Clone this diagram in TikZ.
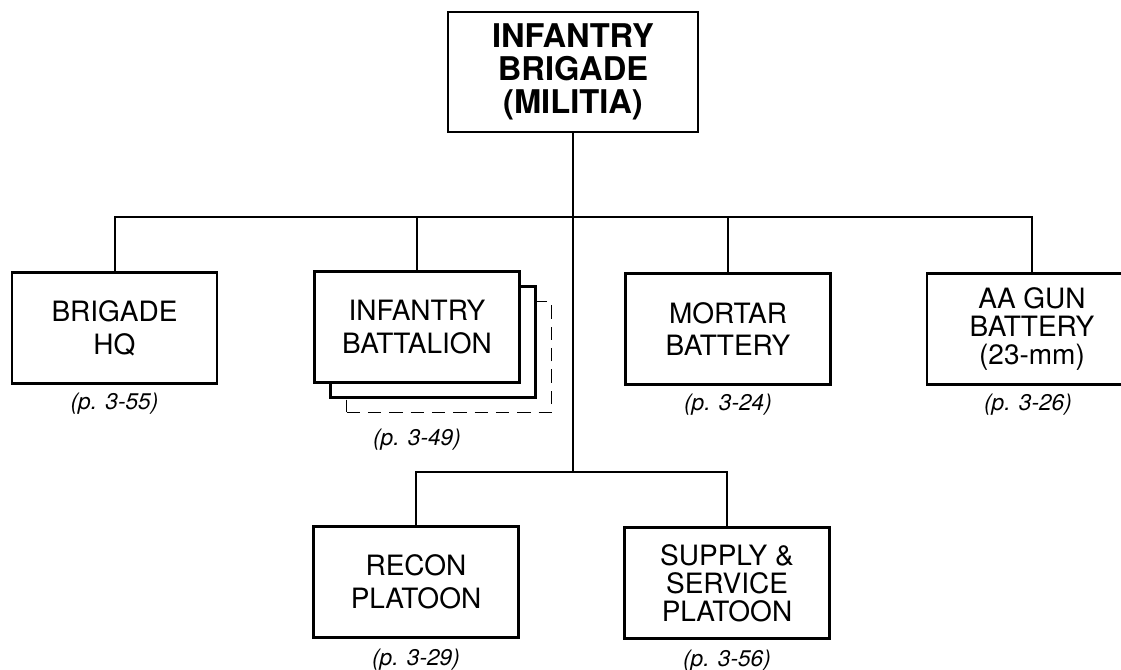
\documentclass[tikz,border=0pt]{standalone}
\usepackage{fontspec}
\setmainfont{TeX Gyre Heros}
\usetikzlibrary{positioning}
\definecolor{Ink}{HTML}{000000}
\tikzset{
  unitbox/.style={
    draw=Ink, line width=1.8pt, fill=white, inner sep=0pt,
    minimum width=153.75pt, minimum height=83pt, align=center,
    font=\fontsize{21}{24.5}\selectfont
  },
  tightbox/.style={font=\fontsize{21}{21}\selectfont},
  titlebox/.style={
    unitbox, minimum width=187.5pt, minimum height=90pt,
    font=\bfseries\fontsize{24.5}{24.5}\selectfont
  },
  ghostbox/.style={draw=Ink, line width=0.6pt, dash pattern=on 10pt off 6pt},
  pageref/.style={font=\itshape\fontsize{17}{17}\selectfont, inner sep=0pt},
  link/.style={draw=Ink, line width=1.5pt}
}

\begin{document}
\begin{tikzpicture}[x=0.75pt,y=-0.75pt]
    \useasboundingbox (0,0) rectangle (1121,670);
    \node[titlebox] (brigade) at (573,72) {INFANTRY\\BRIGADE\\(MILITIA)};
    \node[unitbox] (hq) at (114.5,328) {BRIGADE\\HQ};
    \node[unitbox,ghostbox] (inf3) at (449,357) {};
    \node[unitbox] (inf2) at (433,342) {};
    \node[unitbox] (inf) at (417,327) {INFANTRY\\BATTALION};
    \node[unitbox] (mortar) at (728,329) {MORTAR\\BATTERY};
    \node[unitbox,tightbox,minimum width=157.5pt] (aa) at (1032,329) {AA GUN\\BATTERY\\(23-mm)};
    \node[unitbox] (recon) at (416,582) {RECON\\PLATOON};
    \node[unitbox,tightbox] (supply) at (727,583) {SUPPLY \&\\SERVICE\\PLATOON};
    % page references
    \node[pageref, below=6pt of hq] (hqref) {(p. 3-55)};
    \node[pageref, anchor=north] (infref) at ([yshift=-12pt]inf.south |- inf3.south) {(p. 3-49)};
    \node[pageref, below=6pt of mortar] (mortarref) {(p. 3-24)};
    \node[pageref, below=6pt of aa, xshift=-3pt] (aaref) {(p. 3-26)};
    \node[pageref, below=8pt of recon] (reconref) {(p. 3-29)};
    \node[pageref, below=8pt of supply] (supplyref) {(p. 3-56)};
    % connectors
    \coordinate (bus) at (573,217);
    \coordinate (lowbus) at (573,472);
    \draw[link] (brigade.south) -- (lowbus);
    \draw[link] (hq.north) |- (bus) -| (aa.north);
    \draw[link] (inf.north) -- (inf.north |- bus);
    \draw[link] (mortar.north) -- (mortar.north |- bus);
    \draw[link] (recon.north) |- (lowbus) -| (supply.north);
\end{tikzpicture}
\end{document}
